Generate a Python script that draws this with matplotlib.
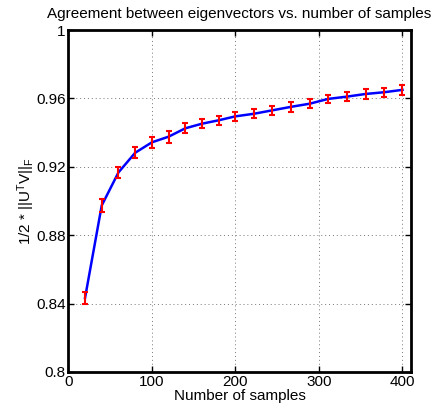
import matplotlib
matplotlib.use("Agg")
import matplotlib.pyplot as plt

n_samples = [20, 40, 60, 80, 100, 120, 140, 160, 180, 200,
             222, 244, 267, 289, 311, 333, 356, 378, 400]
agreement = [0.8433, 0.8974, 0.9167, 0.9282, 0.9343, 0.9376, 0.9425, 0.9452,
             0.9472, 0.9495, 0.9510, 0.9530, 0.9551, 0.9569, 0.9597, 0.9610,
             0.9626, 0.9636, 0.9650]
err = [0.0036, 0.0036, 0.0032, 0.0032, 0.0034, 0.0034, 0.0030, 0.0027,
       0.0027, 0.0027, 0.0027, 0.0026, 0.0029, 0.0026, 0.0024, 0.0026,
       0.0028, 0.0026, 0.0029]
xticks = [0, 100, 200, 300, 400]
yticks = [0.8, 0.84, 0.88, 0.92, 0.96, 1.0]
ytick_labels = ["0.8", "0.84", "0.88", "0.92", "0.96", "1"]

plt.rcParams['font.family'] = ['Liberation Sans', 'DejaVu Sans']
plt.rcParams['mathtext.default'] = 'regular'

fig = plt.figure(figsize=(4.38, 4.11), dpi=100)
ax = fig.add_axes([0.156, 0.095, 0.782, 0.832])

ax.plot(n_samples, agreement, color='#0000ff', lw=1.8, zorder=2)
ax.errorbar(n_samples, agreement, yerr=err, fmt='none', ecolor='#ff0000',
            elinewidth=1.5, capsize=2.5, capthick=1.5, zorder=3)

ax.set_xlim(0, 410)
ax.set_ylim(0.8, 1.0)
ax.set_xticks(xticks)
ax.set_yticks(yticks)
ax.set_yticklabels(ytick_labels)
ax.tick_params(direction='in', top=True, right=True, length=4, width=1,
               labelsize=11, pad=2)
ax.grid(True, linestyle=(0, (1, 3)), color='#777777', lw=0.7)
for s in ax.spines.values():
    s.set_linewidth(2)

ax.set_title('Agreement between eigenvectors vs. number of samples',
             fontsize=11, pad=9)
ax.set_xlabel('Number of samples', fontsize=11, labelpad=0)
ax.set_ylabel('1/2 * ||U$^T$V||$_F$', fontsize=11, labelpad=-1)

fig.savefig('out.png', dpi=100)
